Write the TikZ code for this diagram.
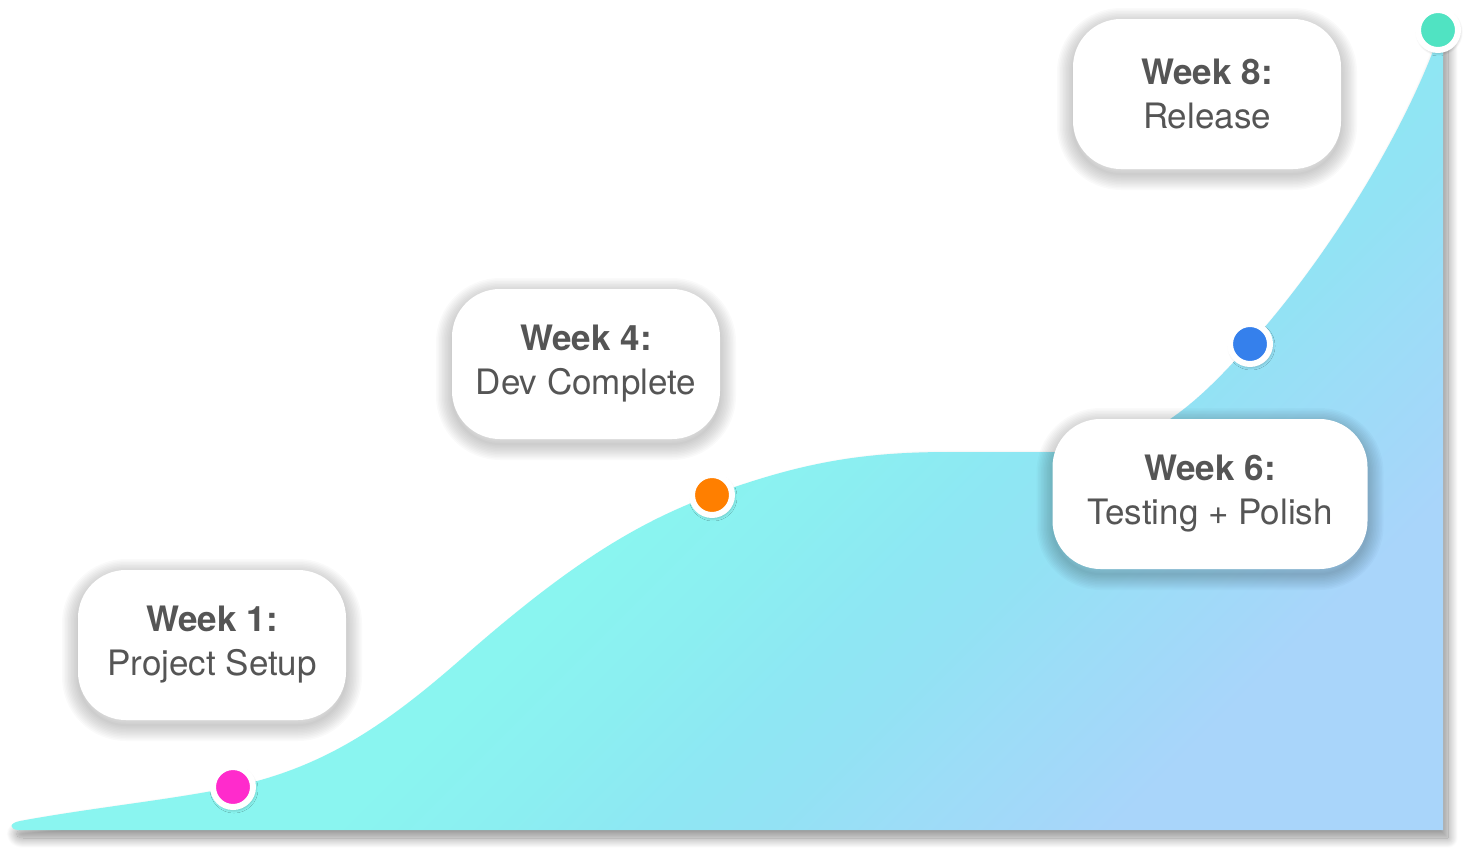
\documentclass[tikz,border=0pt]{standalone}
\usepackage{fontspec}
\setmainfont{TeX Gyre Heros}
\usetikzlibrary{shadows,shadows.blur}
\definecolor{txtgrey}{HTML}{555555}
\definecolor{areaA}{HTML}{8AF5F0}
\definecolor{areaB}{HTML}{8BEFF1}
\definecolor{areaC}{HTML}{8EE7F3}
\definecolor{areaD}{HTML}{93E2F4}
\definecolor{areaE}{HTML}{9CDDF7}
\definecolor{areaF}{HTML}{A3D8F9}
\definecolor{areaG}{HTML}{A9D5FA}
\definecolor{dotpink}{HTML}{FF2BCC}
\definecolor{dotorange}{HTML}{FF7F00}
\definecolor{dotblue}{HTML}{3580EC}
\definecolor{dotteal}{HTML}{50E3C2}
% bottom of the shading = bottom right of the area
\pgfdeclareverticalshading{areafill}{100bp}{color(0bp)=(areaG); color(25bp)=(areaG);
  color(28bp)=(areaF); color(32bp)=(areaE); color(36bp)=(areaD); color(40bp)=(areaC);
  color(45bp)=(areaB); color(50bp)=(areaA); color(100bp)=(areaA)}
\begin{document}
\begin{tikzpicture}[x=1pt,y=-1pt,
  shadowring/.style={general shadow={draw=black,fill=none,draw opacity=.02,line width=#1,
    shadow xshift=0pt,shadow yshift=-5pt}},
  boxshadow/.style={shadowring/.list={32pt,29pt,26pt,23pt,20pt,17pt,14pt,11pt,8pt,5pt,2pt}},
  milestone/.style={fill=white,rounded corners=48pt,minimum width=268pt,minimum height=150pt,
    align=center,text=txtgrey,font=\fontsize{35}{44}\selectfont,boxshadow},
  dot/.style={circle,fill=#1,draw=white,line width=6pt,minimum size=40pt,inner sep=0pt,
    blur shadow={shadow xshift=1pt,shadow yshift=-2pt,shadow blur radius=4pt,
      shadow blur steps=12,shadow opacity=35}}]
\useasboundingbox (0,0) rectangle (1472,854);
% area under the curve
\shade[shading=areafill,shading angle=45,
  blur shadow={shadow xshift=5pt,shadow yshift=-8pt,shadow blur radius=10pt,
    shadow blur steps=24,shadow opacity=45}]
  (18,830) .. controls (9,829) and (9,823) .. (20,821)
  .. controls (90,808) and (170,800) .. (233,787)
  .. controls (320,768) and (380,730) .. (460,660)
  .. controls (560,572) and (630,525) .. (712,495)
  .. controls (800,463) and (860,452) .. (950,452)
  -- (1070,452)
  .. controls (1150,450) and (1200,400) .. (1250,344)
  .. controls (1330,255) and (1405,130) .. (1438,38)
  -- (1443,38) -- (1443,830) -- cycle;
% milestones
\node[milestone] (wk1) at (212,645) {\textbf{Week 1:}\\Project Setup};
\node[milestone] (wk4) at (586,364) {\textbf{Week 4:}\\Dev Complete};
\node[milestone,minimum width=315pt] (wk6) at (1210,494) {\textbf{Week 6:}\\Testing + Polish};
\node[milestone] (wk8) at (1207,94) {\textbf{Week 8:}\\Release};
\node[dot=dotpink] (d1) at (233,787) {};
\node[dot=dotorange] (d4) at (712,495) {};
\node[dot=dotblue] (d6) at (1250,344) {};
\node[dot=dotteal] (d8) at (1438,30) {};
\end{tikzpicture}
\end{document}
